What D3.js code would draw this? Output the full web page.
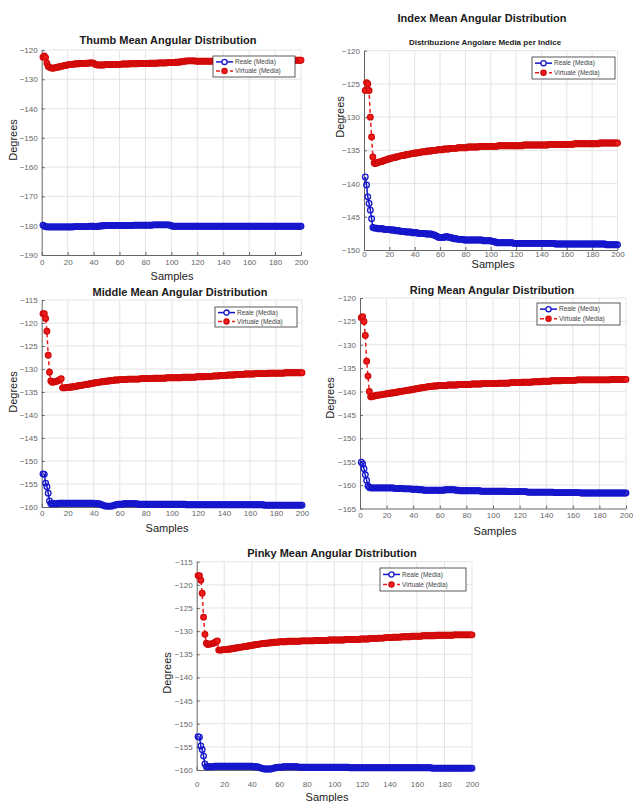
<!DOCTYPE html>
<html>
<head>
<meta charset="utf-8">
<script src="https://cdn.jsdelivr.net/npm/d3@7/dist/d3.min.js"></script>
<style>
  body { margin: 0; background: #fff; }
  text { font-family: "Liberation Sans", Arial, sans-serif; }
</style>
</head>
<body>
<svg id="chart" width="633" height="802"></svg>
<script>
// ---- data ----
const seriesNames = ['Reale (Media)', 'Virtuale (Media)'];
const xTicks = [0, 20, 40, 60, 80, 100, 120, 140, 160, 180, 200];
const thumbYTicks = [-190, -180, -170, -160, -150, -140, -130, -120];
const indexYTicks = [-150, -145, -140, -135, -130, -125, -120];
const middleYTicks = [-160, -155, -150, -145, -140, -135, -130, -125, -120, -115];
const ringYTicks = [-165, -160, -155, -150, -145, -140, -135, -130, -125, -120];
const pinkyYTicks = [-160, -155, -150, -145, -140, -135, -130, -125, -120, -115];

const thumbVirtuale = [
-122.5,-122.0,-122.6,-124.5,-125.6,-125.9,-126.1,-126.2,-126.2,-126.1,-126.0,-125.9,-125.8,-125.7,-125.6,-125.5,-125.4,-125.3,-125.2,-125.1,
-125.0,-125.0,-124.9,-124.9,-124.8,-124.8,-124.7,-124.7,-124.7,-124.6,-124.6,-124.6,-124.6,-124.5,-124.5,-124.5,-124.4,-124.4,-124.4,-124.5,
-124.8,-125.0,-125.1,-125.1,-125.1,-125.1,-125.1,-125.1,-125.0,-125.0,-125.0,-125.0,-125.0,-125.0,-124.9,-124.9,-124.9,-124.9,-124.9,-124.9,
-124.9,-124.8,-124.8,-124.8,-124.8,-124.8,-124.8,-124.7,-124.7,-124.7,-124.7,-124.7,-124.7,-124.7,-124.6,-124.6,-124.6,-124.6,-124.6,-124.6,
-124.6,-124.6,-124.5,-124.5,-124.5,-124.5,-124.5,-124.5,-124.5,-124.4,-124.4,-124.4,-124.4,-124.4,-124.4,-124.4,-124.3,-124.3,-124.3,-124.3,
-124.3,-124.3,-124.2,-124.2,-124.2,-124.1,-124.1,-124.0,-123.9,-123.8,-123.8,-123.7,-123.7,-123.7,-123.7,-123.7,-123.7,-123.7,-123.8,-123.8,
-123.8,-123.8,-123.8,-123.8,-123.8,-123.8,-123.8,-123.8,-123.8,-123.8,-123.8,-123.8,-123.7,-123.7,-123.7,-123.7,-123.7,-123.7,-123.7,-123.7,
-123.7,-123.7,-123.7,-123.7,-123.7,-123.7,-123.7,-123.7,-123.7,-123.7,-123.7,-123.7,-123.7,-123.7,-123.7,-123.7,-123.7,-123.7,-123.7,-123.7,
-123.7,-123.7,-123.7,-123.7,-123.7,-123.6,-123.6,-123.6,-123.6,-123.6,-123.6,-123.6,-123.6,-123.6,-123.6,-123.6,-123.6,-123.6,-123.6,-123.6,
-123.6,-123.6,-123.6,-123.6,-123.6,-123.6,-123.6,-123.6,-123.6,-123.6,-123.5,-123.5,-123.5,-123.5,-123.5,-123.5,-123.5,-123.5,-123.5,-123.5
];
const thumbReale = [
-179.8,-180.2,-180.3,-180.4,-180.4,-180.4,-180.4,-180.4,-180.4,-180.4,-180.4,-180.4,-180.4,-180.4,-180.4,-180.4,-180.4,-180.4,-180.4,-180.4,
-180.4,-180.4,-180.4,-180.4,-180.3,-180.3,-180.3,-180.3,-180.3,-180.3,-180.3,-180.3,-180.3,-180.3,-180.3,-180.3,-180.2,-180.2,-180.2,-180.2,
-180.3,-180.3,-180.2,-180.2,-180.1,-180.1,-180.0,-180.0,-179.9,-179.9,-179.9,-179.9,-179.9,-179.9,-179.9,-179.9,-179.9,-179.9,-179.9,-179.9,
-179.9,-179.9,-179.9,-179.9,-179.9,-179.9,-179.9,-179.9,-179.9,-179.9,-179.8,-179.8,-179.8,-179.8,-179.8,-179.8,-179.8,-179.8,-179.8,-179.8,
-179.8,-179.8,-179.8,-179.8,-179.8,-179.7,-179.7,-179.7,-179.7,-179.7,-179.7,-179.7,-179.7,-179.7,-179.7,-179.7,-179.7,-179.7,-179.8,-180.0,
-180.2,-180.2,-180.2,-180.2,-180.2,-180.2,-180.2,-180.2,-180.2,-180.2,-180.2,-180.2,-180.2,-180.2,-180.2,-180.2,-180.2,-180.2,-180.2,-180.2,
-180.2,-180.2,-180.2,-180.2,-180.2,-180.2,-180.2,-180.2,-180.2,-180.2,-180.2,-180.2,-180.2,-180.2,-180.2,-180.2,-180.2,-180.2,-180.2,-180.2,
-180.2,-180.2,-180.2,-180.2,-180.2,-180.2,-180.2,-180.2,-180.2,-180.2,-180.2,-180.2,-180.2,-180.2,-180.2,-180.2,-180.2,-180.2,-180.2,-180.2,
-180.2,-180.2,-180.2,-180.2,-180.2,-180.2,-180.2,-180.2,-180.2,-180.2,-180.2,-180.2,-180.2,-180.2,-180.2,-180.2,-180.2,-180.2,-180.2,-180.2,
-180.2,-180.2,-180.2,-180.2,-180.2,-180.2,-180.2,-180.2,-180.2,-180.2,-180.2,-180.2,-180.2,-180.2,-180.2,-180.2,-180.2,-180.2,-180.2,-180.2
];

const indexVirtuale = [
-126.0,-124.8,-125.0,-126.0,-130.0,-133.0,-136.0,-136.9,-137.0,-136.9,-136.8,-136.8,-136.7,-136.7,-136.6,-136.5,-136.5,-136.4,-136.3,-136.3,
-136.2,-136.2,-136.1,-136.1,-136.0,-136.0,-135.9,-135.9,-135.8,-135.8,-135.8,-135.7,-135.7,-135.6,-135.6,-135.6,-135.5,-135.5,-135.5,-135.4,
-135.4,-135.4,-135.3,-135.3,-135.3,-135.2,-135.2,-135.2,-135.2,-135.1,-135.1,-135.1,-135.1,-135.0,-135.0,-135.0,-135.0,-134.9,-134.9,-134.9,
-134.9,-134.9,-134.8,-134.8,-134.8,-134.8,-134.8,-134.7,-134.7,-134.7,-134.7,-134.7,-134.7,-134.6,-134.6,-134.6,-134.6,-134.6,-134.6,-134.6,
-134.6,-134.5,-134.5,-134.5,-134.5,-134.5,-134.5,-134.5,-134.5,-134.5,-134.4,-134.4,-134.4,-134.4,-134.4,-134.4,-134.4,-134.4,-134.4,-134.4,
-134.4,-134.4,-134.4,-134.4,-134.4,-134.3,-134.3,-134.3,-134.3,-134.3,-134.3,-134.3,-134.3,-134.3,-134.3,-134.3,-134.3,-134.3,-134.3,-134.3,
-134.3,-134.3,-134.3,-134.3,-134.3,-134.2,-134.2,-134.2,-134.2,-134.2,-134.2,-134.2,-134.2,-134.2,-134.2,-134.2,-134.2,-134.2,-134.2,-134.2,
-134.2,-134.2,-134.2,-134.2,-134.2,-134.1,-134.1,-134.1,-134.1,-134.1,-134.1,-134.1,-134.1,-134.1,-134.1,-134.1,-134.1,-134.1,-134.1,-134.1,
-134.1,-134.1,-134.1,-134.1,-134.1,-134.0,-134.0,-134.0,-134.0,-134.0,-134.0,-134.0,-134.0,-134.0,-134.0,-134.0,-134.0,-134.0,-134.0,-134.0,
-134.0,-134.0,-134.0,-134.0,-134.0,-133.9,-133.9,-133.9,-133.9,-133.9,-133.9,-133.9,-133.9,-133.9,-133.9,-133.9,-133.9,-133.9,-133.9,-133.9
];
const indexReale = [
-139.0,-140.2,-142.0,-143.0,-144.0,-145.3,-146.6,-146.7,-146.7,-146.7,-146.8,-146.8,-146.8,-146.8,-146.8,-146.9,-146.9,-146.9,-146.9,-146.9,
-147.0,-147.0,-147.0,-147.0,-147.1,-147.1,-147.1,-147.1,-147.2,-147.2,-147.2,-147.2,-147.3,-147.3,-147.3,-147.3,-147.3,-147.4,-147.4,-147.4,
-147.4,-147.4,-147.5,-147.5,-147.5,-147.5,-147.5,-147.5,-147.6,-147.6,-147.6,-147.6,-147.6,-147.7,-147.7,-147.8,-147.9,-148.0,-148.1,-148.1,
-148.1,-148.1,-148.1,-148.0,-148.0,-148.0,-148.1,-148.1,-148.2,-148.2,-148.3,-148.3,-148.3,-148.4,-148.4,-148.4,-148.4,-148.4,-148.5,-148.5,
-148.5,-148.5,-148.5,-148.5,-148.5,-148.5,-148.5,-148.5,-148.5,-148.5,-148.5,-148.5,-148.5,-148.6,-148.6,-148.6,-148.6,-148.6,-148.6,-148.6,
-148.7,-148.7,-148.8,-148.8,-148.9,-148.9,-148.9,-148.9,-148.9,-148.9,-148.9,-148.9,-148.9,-148.9,-148.9,-148.9,-148.9,-149.0,-149.0,-149.0,
-149.0,-149.0,-149.0,-149.0,-149.0,-149.0,-149.0,-149.0,-149.0,-149.0,-149.0,-149.0,-149.0,-149.0,-149.0,-149.0,-149.0,-149.0,-149.0,-149.0,
-149.0,-149.0,-149.0,-149.0,-149.0,-149.0,-149.0,-149.0,-149.0,-149.0,-149.1,-149.1,-149.1,-149.1,-149.1,-149.1,-149.1,-149.1,-149.1,-149.1,
-149.1,-149.1,-149.1,-149.1,-149.1,-149.1,-149.1,-149.1,-149.1,-149.1,-149.1,-149.1,-149.1,-149.1,-149.1,-149.1,-149.1,-149.1,-149.1,-149.1,
-149.1,-149.1,-149.1,-149.1,-149.1,-149.1,-149.1,-149.1,-149.1,-149.1,-149.2,-149.2,-149.2,-149.2,-149.2,-149.2,-149.2,-149.2,-149.2,-149.2
];

const middleVirtuale = [
-118.0,-118.0,-119.0,-121.8,-127.0,-130.7,-132.6,-132.9,-132.8,-132.8,-132.7,-132.6,-132.5,-132.3,-132.1,-134.1,-134.1,-134.1,-134.0,-134.0,
-134.0,-133.9,-133.9,-133.9,-133.8,-133.8,-133.7,-133.7,-133.6,-133.6,-133.5,-133.5,-133.4,-133.4,-133.3,-133.3,-133.2,-133.2,-133.1,-133.1,
-133.0,-133.0,-132.9,-132.9,-132.8,-132.8,-132.7,-132.7,-132.7,-132.6,-132.6,-132.6,-132.5,-132.5,-132.5,-132.4,-132.4,-132.4,-132.4,-132.3,
-132.3,-132.3,-132.3,-132.3,-132.3,-132.2,-132.2,-132.2,-132.2,-132.2,-132.2,-132.2,-132.2,-132.2,-132.2,-132.1,-132.1,-132.1,-132.1,-132.1,
-132.1,-132.1,-132.1,-132.1,-132.1,-132.0,-132.0,-132.0,-132.0,-132.0,-132.0,-132.0,-132.0,-132.0,-132.0,-131.9,-131.9,-131.9,-131.9,-131.9,
-131.9,-131.9,-131.9,-131.9,-131.9,-131.9,-131.9,-131.8,-131.8,-131.8,-131.8,-131.8,-131.8,-131.8,-131.8,-131.8,-131.8,-131.8,-131.7,-131.7,
-131.7,-131.7,-131.7,-131.7,-131.7,-131.6,-131.6,-131.6,-131.6,-131.6,-131.6,-131.5,-131.5,-131.5,-131.5,-131.5,-131.4,-131.4,-131.4,-131.4,
-131.4,-131.4,-131.3,-131.3,-131.3,-131.3,-131.3,-131.3,-131.2,-131.2,-131.2,-131.2,-131.2,-131.2,-131.2,-131.1,-131.1,-131.1,-131.1,-131.1,
-131.1,-131.1,-131.1,-131.0,-131.0,-131.0,-131.0,-131.0,-131.0,-131.0,-131.0,-131.0,-131.0,-130.9,-130.9,-130.9,-130.9,-130.9,-130.9,-130.9,
-130.9,-130.9,-130.9,-130.9,-130.9,-130.9,-130.8,-130.8,-130.8,-130.8,-130.8,-130.8,-130.8,-130.8,-130.8,-130.8,-130.8,-130.8,-130.8,-130.8
];
const middleReale = [
-152.8,-152.9,-154.8,-155.6,-157.0,-158.7,-159.3,-159.3,-159.3,-159.3,-159.3,-159.3,-159.2,-159.2,-159.2,-159.2,-159.2,-159.2,-159.2,-159.2,
-159.2,-159.2,-159.2,-159.2,-159.2,-159.2,-159.2,-159.2,-159.2,-159.2,-159.2,-159.2,-159.2,-159.2,-159.2,-159.2,-159.2,-159.2,-159.2,-159.2,
-159.3,-159.3,-159.3,-159.3,-159.4,-159.5,-159.6,-159.7,-159.8,-159.8,-159.8,-159.8,-159.8,-159.8,-159.7,-159.6,-159.5,-159.5,-159.4,-159.4,
-159.4,-159.4,-159.3,-159.3,-159.3,-159.3,-159.3,-159.3,-159.3,-159.3,-159.3,-159.3,-159.3,-159.4,-159.4,-159.4,-159.4,-159.4,-159.4,-159.4,
-159.4,-159.4,-159.4,-159.4,-159.4,-159.4,-159.4,-159.4,-159.4,-159.4,-159.4,-159.4,-159.4,-159.4,-159.4,-159.4,-159.4,-159.4,-159.4,-159.4,
-159.4,-159.4,-159.4,-159.4,-159.4,-159.4,-159.4,-159.4,-159.4,-159.4,-159.5,-159.5,-159.5,-159.5,-159.5,-159.5,-159.5,-159.5,-159.5,-159.5,
-159.5,-159.5,-159.5,-159.5,-159.5,-159.5,-159.5,-159.5,-159.5,-159.5,-159.5,-159.5,-159.5,-159.5,-159.5,-159.5,-159.5,-159.5,-159.5,-159.5,
-159.5,-159.5,-159.5,-159.5,-159.5,-159.5,-159.5,-159.5,-159.5,-159.5,-159.5,-159.5,-159.5,-159.5,-159.5,-159.5,-159.5,-159.5,-159.5,-159.5,
-159.5,-159.5,-159.5,-159.5,-159.5,-159.5,-159.5,-159.5,-159.5,-159.5,-159.6,-159.6,-159.6,-159.6,-159.6,-159.6,-159.6,-159.6,-159.6,-159.6,
-159.6,-159.6,-159.6,-159.6,-159.6,-159.6,-159.6,-159.6,-159.6,-159.6,-159.6,-159.6,-159.6,-159.6,-159.6,-159.6,-159.6,-159.6,-159.6,-159.6
];

const ringVirtuale = [
-124.2,-124.0,-125.0,-128.0,-133.5,-136.7,-140.0,-141.1,-141.1,-141.0,-140.9,-140.9,-140.8,-140.8,-140.7,-140.7,-140.6,-140.6,-140.5,-140.5,
-140.4,-140.4,-140.3,-140.3,-140.3,-140.2,-140.2,-140.1,-140.1,-140.0,-140.0,-139.9,-139.9,-139.8,-139.8,-139.7,-139.7,-139.6,-139.6,-139.5,
-139.5,-139.4,-139.4,-139.3,-139.3,-139.2,-139.2,-139.1,-139.1,-139.0,-139.0,-138.9,-138.9,-138.9,-138.8,-138.8,-138.8,-138.8,-138.7,-138.7,
-138.7,-138.7,-138.7,-138.7,-138.7,-138.6,-138.6,-138.6,-138.6,-138.6,-138.6,-138.6,-138.6,-138.5,-138.5,-138.5,-138.5,-138.5,-138.5,-138.5,
-138.5,-138.5,-138.5,-138.4,-138.4,-138.4,-138.4,-138.4,-138.4,-138.4,-138.4,-138.3,-138.3,-138.3,-138.3,-138.3,-138.3,-138.3,-138.3,-138.3,
-138.3,-138.3,-138.3,-138.2,-138.2,-138.2,-138.2,-138.2,-138.2,-138.2,-138.2,-138.2,-138.1,-138.1,-138.1,-138.1,-138.1,-138.1,-138.1,-138.1,
-138.1,-138.0,-138.0,-138.0,-138.0,-138.0,-138.0,-138.0,-138.0,-137.9,-137.9,-137.9,-137.9,-137.9,-137.9,-137.9,-137.8,-137.8,-137.8,-137.8,
-137.8,-137.8,-137.8,-137.7,-137.7,-137.7,-137.7,-137.7,-137.7,-137.7,-137.7,-137.6,-137.6,-137.6,-137.6,-137.6,-137.6,-137.6,-137.6,-137.6,
-137.6,-137.6,-137.5,-137.5,-137.5,-137.5,-137.5,-137.5,-137.5,-137.5,-137.5,-137.5,-137.5,-137.5,-137.5,-137.5,-137.5,-137.5,-137.5,-137.5,
-137.5,-137.5,-137.5,-137.5,-137.5,-137.5,-137.5,-137.5,-137.4,-137.4,-137.4,-137.4,-137.4,-137.4,-137.4,-137.4,-137.4,-137.4,-137.4,-137.4
];
const ringReale = [
-155.1,-155.5,-156.5,-157.8,-159.0,-160.2,-160.5,-160.6,-160.6,-160.6,-160.6,-160.6,-160.6,-160.6,-160.6,-160.6,-160.6,-160.6,-160.6,-160.6,
-160.6,-160.6,-160.6,-160.6,-160.6,-160.7,-160.7,-160.7,-160.7,-160.7,-160.7,-160.7,-160.8,-160.8,-160.8,-160.8,-160.8,-160.8,-160.9,-160.9,
-160.9,-160.9,-160.9,-161.0,-161.0,-161.0,-161.0,-161.1,-161.1,-161.1,-161.1,-161.1,-161.1,-161.1,-161.1,-161.1,-161.1,-161.1,-161.1,-161.1,
-161.1,-161.1,-161.1,-161.0,-161.0,-161.0,-161.0,-161.0,-161.0,-161.0,-161.0,-161.1,-161.1,-161.1,-161.2,-161.2,-161.2,-161.2,-161.2,-161.2,
-161.2,-161.2,-161.2,-161.2,-161.2,-161.2,-161.2,-161.2,-161.2,-161.2,-161.3,-161.3,-161.3,-161.3,-161.3,-161.3,-161.3,-161.3,-161.3,-161.3,
-161.3,-161.3,-161.3,-161.3,-161.3,-161.3,-161.3,-161.3,-161.3,-161.3,-161.4,-161.4,-161.4,-161.4,-161.4,-161.4,-161.4,-161.4,-161.4,-161.4,
-161.4,-161.4,-161.4,-161.4,-161.4,-161.5,-161.5,-161.5,-161.5,-161.5,-161.5,-161.5,-161.5,-161.5,-161.5,-161.5,-161.5,-161.5,-161.5,-161.5,
-161.5,-161.5,-161.5,-161.5,-161.5,-161.6,-161.6,-161.6,-161.6,-161.6,-161.6,-161.6,-161.6,-161.6,-161.6,-161.6,-161.6,-161.6,-161.6,-161.6,
-161.6,-161.6,-161.6,-161.6,-161.6,-161.7,-161.7,-161.7,-161.7,-161.7,-161.7,-161.7,-161.7,-161.7,-161.7,-161.7,-161.7,-161.7,-161.7,-161.7,
-161.7,-161.7,-161.7,-161.7,-161.7,-161.7,-161.7,-161.7,-161.7,-161.7,-161.7,-161.7,-161.7,-161.7,-161.7,-161.7,-161.7,-161.7,-161.7,-161.7
];

const pinkyVirtuale = [
-118.0,-118.0,-119.0,-121.8,-127.0,-130.7,-132.6,-132.9,-132.8,-132.8,-132.7,-132.6,-132.5,-132.3,-132.1,-134.1,-134.1,-134.1,-134.0,-134.0,
-134.0,-133.9,-133.9,-133.9,-133.8,-133.8,-133.7,-133.7,-133.6,-133.6,-133.5,-133.5,-133.4,-133.4,-133.3,-133.3,-133.2,-133.2,-133.1,-133.1,
-133.0,-133.0,-132.9,-132.9,-132.8,-132.8,-132.7,-132.7,-132.7,-132.6,-132.6,-132.6,-132.5,-132.5,-132.5,-132.4,-132.4,-132.4,-132.4,-132.3,
-132.3,-132.3,-132.3,-132.3,-132.3,-132.2,-132.2,-132.2,-132.2,-132.2,-132.2,-132.2,-132.2,-132.2,-132.2,-132.1,-132.1,-132.1,-132.1,-132.1,
-132.1,-132.1,-132.1,-132.1,-132.1,-132.0,-132.0,-132.0,-132.0,-132.0,-132.0,-132.0,-132.0,-132.0,-132.0,-131.9,-131.9,-131.9,-131.9,-131.9,
-131.9,-131.9,-131.9,-131.9,-131.9,-131.9,-131.9,-131.8,-131.8,-131.8,-131.8,-131.8,-131.8,-131.8,-131.8,-131.8,-131.8,-131.8,-131.7,-131.7,
-131.7,-131.7,-131.7,-131.7,-131.7,-131.6,-131.6,-131.6,-131.6,-131.6,-131.6,-131.5,-131.5,-131.5,-131.5,-131.5,-131.4,-131.4,-131.4,-131.4,
-131.4,-131.4,-131.3,-131.3,-131.3,-131.3,-131.3,-131.3,-131.2,-131.2,-131.2,-131.2,-131.2,-131.2,-131.2,-131.1,-131.1,-131.1,-131.1,-131.1,
-131.1,-131.1,-131.1,-131.0,-131.0,-131.0,-131.0,-131.0,-131.0,-131.0,-131.0,-131.0,-131.0,-130.9,-130.9,-130.9,-130.9,-130.9,-130.9,-130.9,
-130.9,-130.9,-130.9,-130.9,-130.9,-130.9,-130.8,-130.8,-130.8,-130.8,-130.8,-130.8,-130.8,-130.8,-130.8,-130.8,-130.8,-130.8,-130.8,-130.8
];
const pinkyReale = [
-152.8,-152.9,-154.8,-155.6,-157.0,-158.7,-159.3,-159.3,-159.3,-159.3,-159.3,-159.3,-159.2,-159.2,-159.2,-159.2,-159.2,-159.2,-159.2,-159.2,
-159.2,-159.2,-159.2,-159.2,-159.2,-159.2,-159.2,-159.2,-159.2,-159.2,-159.2,-159.2,-159.2,-159.2,-159.2,-159.2,-159.2,-159.2,-159.2,-159.2,
-159.3,-159.3,-159.3,-159.3,-159.4,-159.5,-159.6,-159.7,-159.8,-159.8,-159.8,-159.8,-159.8,-159.8,-159.7,-159.6,-159.5,-159.5,-159.4,-159.4,
-159.4,-159.4,-159.3,-159.3,-159.3,-159.3,-159.3,-159.3,-159.3,-159.3,-159.3,-159.3,-159.3,-159.4,-159.4,-159.4,-159.4,-159.4,-159.4,-159.4,
-159.4,-159.4,-159.4,-159.4,-159.4,-159.4,-159.4,-159.4,-159.4,-159.4,-159.4,-159.4,-159.4,-159.4,-159.4,-159.4,-159.4,-159.4,-159.4,-159.4,
-159.4,-159.4,-159.4,-159.4,-159.4,-159.4,-159.4,-159.4,-159.4,-159.4,-159.5,-159.5,-159.5,-159.5,-159.5,-159.5,-159.5,-159.5,-159.5,-159.5,
-159.5,-159.5,-159.5,-159.5,-159.5,-159.5,-159.5,-159.5,-159.5,-159.5,-159.5,-159.5,-159.5,-159.5,-159.5,-159.5,-159.5,-159.5,-159.5,-159.5,
-159.5,-159.5,-159.5,-159.5,-159.5,-159.5,-159.5,-159.5,-159.5,-159.5,-159.5,-159.5,-159.5,-159.5,-159.5,-159.5,-159.5,-159.5,-159.5,-159.5,
-159.5,-159.5,-159.5,-159.5,-159.5,-159.5,-159.5,-159.5,-159.5,-159.5,-159.6,-159.6,-159.6,-159.6,-159.6,-159.6,-159.6,-159.6,-159.6,-159.6,
-159.6,-159.6,-159.6,-159.6,-159.6,-159.6,-159.6,-159.6,-159.6,-159.6,-159.6,-159.6,-159.6,-159.6,-159.6,-159.6,-159.6,-159.6,-159.6,-159.6
];

// ---- layout of the five panels ----
const panels = [
  {title: 'Thumb Mean Angular Distribution', reale: thumbReale, virtuale: thumbVirtuale,
   yDomain: [-190, -120], yTicks: thumbYTicks,
   left: 41.7, right: 301, top: 50, bottom: 255, xPad: 4,
   titleX: 168, titleY: 44, samplesX: 172, samplesY: 280, degreesX: 17, degreesY: 140,
   legend: {x: 213, y: 56, w: 82, h: 21}},
  {title: 'Index Mean Angular Distribution', subtitle: 'Distribuzione Angolare Media per Indice',
   reale: indexReale, virtuale: indexVirtuale,
   yDomain: [-150, -120], yTicks: indexYTicks,
   left: 364, right: 617.5, top: 50.7, bottom: 250, xPad: 1.5,
   titleX: 482, titleY: 22, subX: 485, subY: 45, samplesX: 493, samplesY: 268, degreesX: 344, degreesY: 117,
   legend: {x: 532, y: 57, w: 83, h: 22}},
  {title: 'Middle Mean Angular Distribution', reale: middleReale, virtuale: middleVirtuale,
   yDomain: [-160, -115], yTicks: middleYTicks,
   left: 41.7, right: 302, top: 300, bottom: 507, xPad: 3.5,
   titleX: 180, titleY: 296, samplesX: 167, samplesY: 532, degreesX: 17, degreesY: 392,
   legend: {x: 215, y: 307, w: 82, h: 20}},
  {title: 'Ring Mean Angular Distribution', reale: ringReale, virtuale: ringVirtuale,
   yDomain: [-165, -120], yTicks: ringYTicks,
   left: 360, right: 626, top: 298, bottom: 508.5, xPad: 3.5,
   titleX: 492, titleY: 294, samplesX: 495, samplesY: 535, degreesX: 334, degreesY: 398,
   legend: {x: 537, y: 303, w: 83, h: 22}},
  {title: 'Pinky Mean Angular Distribution', reale: pinkyReale, virtuale: pinkyVirtuale,
   yDomain: [-160, -115], yTicks: pinkyYTicks,
   left: 196.7, right: 472, top: 561.7, bottom: 770, xPad: 11,
   titleX: 332, titleY: 557, samplesX: 327, samplesY: 801, degreesX: 171, degreesY: 673,
   legend: {x: 380, y: 568, w: 86, h: 23}}
];

const blue = '#1616cc', blueEdge = '#0a0a9a';
const red = '#ee1c1c', redEdge = '#d10a0a';

const svg = d3.select('#chart');

panels.forEach(p => {
  const g = svg.append('g');
  const x = d3.scaleLinear().domain([0, 200]).range([p.left, p.right]);
  const y = d3.scaleLinear().domain(p.yDomain).range([p.bottom, p.top]);

  // grid
  g.append('g').selectAll('line').data(xTicks.slice(1)).join('line')
    .attr('x1', d => x(d)).attr('x2', d => x(d))
    .attr('y1', p.top).attr('y2', p.bottom)
    .attr('stroke', '#e4e4e4').attr('stroke-width', 1);
  g.append('g').selectAll('line').data(p.yTicks.slice(1)).join('line')
    .attr('x1', p.left).attr('x2', p.right)
    .attr('y1', d => y(d)).attr('y2', d => y(d))
    .attr('stroke', '#e4e4e4').attr('stroke-width', 1);

  // axes
  const xAxis = g.append('g')
    .attr('transform', 'translate(0,' + p.bottom + ')')
    .call(d3.axisBottom(x).tickValues(xTicks).tickSizeInner(-3).tickSizeOuter(0).tickPadding(p.xPad));
  const yAxis = g.append('g')
    .attr('transform', 'translate(' + p.left + ',0)')
    .call(d3.axisLeft(y).tickValues(p.yTicks).tickSizeInner(-3).tickSizeOuter(0).tickPadding(4));
  [xAxis, yAxis].forEach(a => {
    a.select('.domain').attr('stroke', '#666').attr('stroke-width', 1);
    a.selectAll('.tick line').attr('stroke', '#666');
    a.selectAll('.tick text').attr('fill', '#666').style('font-size', '8px');
  });

  // series
  const line = d3.line().x((d, i) => x(i + 1)).y(d => y(d));
  const seriesList = [
    {vals: p.reale, color: blue, edge: blueEdge, dash: null, fill: 'none'},
    {vals: p.virtuale, color: red, edge: redEdge, dash: '4,3', fill: red}
  ];
  seriesList.forEach(s => {
    g.append('path').datum(s.vals)
      .attr('d', line)
      .attr('fill', 'none')
      .attr('stroke', s.color)
      .attr('stroke-width', 1.5)
      .attr('stroke-dasharray', s.dash);
    g.append('g').selectAll('circle').data(s.vals).join('circle')
      .attr('cx', (d, i) => x(i + 1))
      .attr('cy', d => y(d))
      .attr('r', 2.8)
      .attr('fill', s.fill)
      .attr('stroke', s.fill === 'none' ? s.color : s.edge)
      .attr('stroke-width', 1.3);
  });

  // titles and labels
  g.append('text').attr('x', p.titleX).attr('y', p.titleY)
    .attr('text-anchor', 'middle').style('font-size', '11px').style('font-weight', 'bold')
    .attr('fill', '#1a1a1a').text(p.title);
  if (p.subtitle) {
    g.append('text').attr('x', p.subX).attr('y', p.subY)
      .attr('text-anchor', 'middle').style('font-size', '8px').style('font-weight', 'bold')
      .attr('fill', '#222').text(p.subtitle);
  }
  g.append('text').attr('x', p.samplesX).attr('y', p.samplesY)
    .attr('text-anchor', 'middle').style('font-size', '11px')
    .attr('fill', '#222').text('Samples');
  g.append('text')
    .attr('transform', 'translate(' + p.degreesX + ',' + p.degreesY + ') rotate(-90)')
    .attr('text-anchor', 'middle').style('font-size', '11px')
    .attr('fill', '#222').text('Degrees');

  // legend
  const L = p.legend;
  const lg = g.append('g').attr('transform', 'translate(' + L.x + ',' + L.y + ')');
  lg.append('rect').attr('width', L.w).attr('height', L.h)
    .attr('fill', '#fff').attr('stroke', '#333').attr('stroke-width', 0.8);
  seriesNames.forEach((name, k) => {
    const s = seriesList[k];
    const ly = L.h * (k === 0 ? 0.28 : 0.72);
    lg.append('line').attr('x1', 3).attr('x2', 20).attr('y1', ly).attr('y2', ly)
      .attr('stroke', s.color).attr('stroke-width', 1.5).attr('stroke-dasharray', s.dash);
    lg.append('circle').attr('cx', 11.5).attr('cy', ly).attr('r', 2.6)
      .attr('fill', k === 0 ? '#fff' : red).attr('stroke', s.fill === 'none' ? s.color : s.edge)
      .attr('stroke-width', 1.3);
    lg.append('text').attr('x', 22).attr('y', ly + 2.3)
      .style('font-size', '6.5px').attr('fill', '#444').text(name);
  });
});
</script>
</body>
</html>
